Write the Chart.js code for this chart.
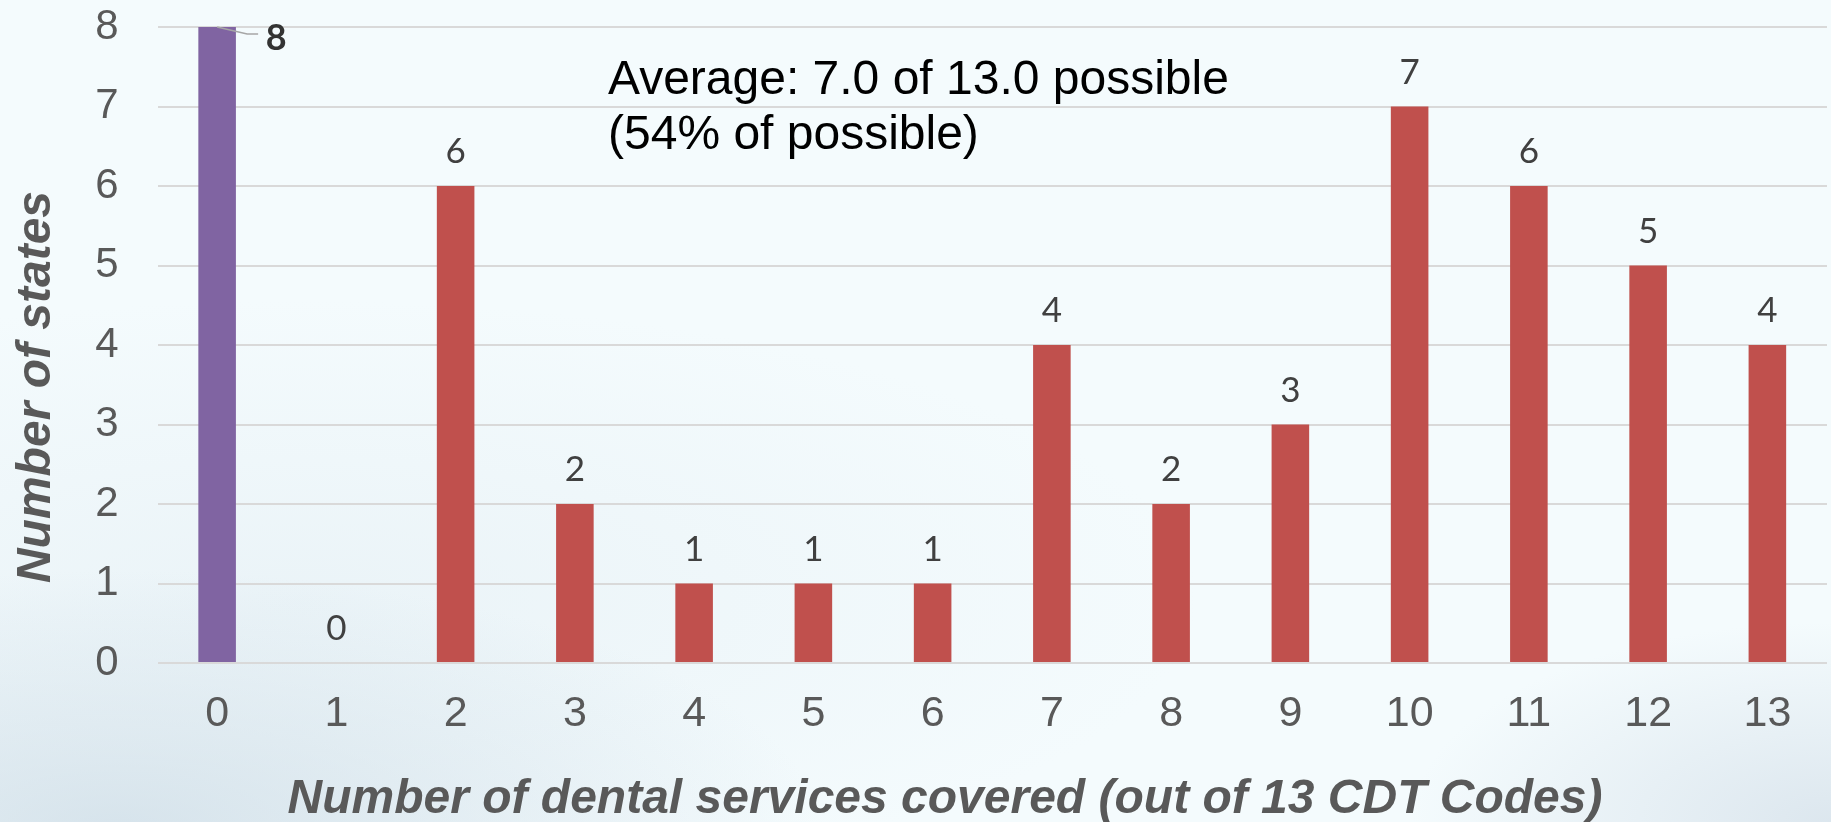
<!DOCTYPE html>
<html>
<head>
<meta charset="utf-8">
<script src="https://cdn.jsdelivr.net/npm/chart.js@4.4.1/dist/chart.umd.min.js"></script>
<style>
  html, body { margin: 0; padding: 0; }
  body {
    width: 1831px; height: 822px; overflow: hidden;
    background:
      radial-gradient(ellipse 700px 260px at 120px 830px, rgba(205,220,230,0.75), rgba(205,220,230,0) 100%),
      radial-gradient(ellipse 420px 200px at 1831px 822px, rgba(210,222,232,0.7), rgba(210,222,232,0) 100%),
      radial-gradient(ellipse 900px 300px at 300px 600px, rgba(225,236,242,0.5), rgba(225,236,242,0) 100%),
      #F4FBFD;
  }
  #wrap { position: absolute; left: 0; top: 0; width: 1831px; height: 822px; }
</style>
</head>
<body>
<div id="wrap"><canvas id="c" width="1831" height="822"></canvas></div>
<script>
// Number of dental services covered (0..13) and how many states cover that many
const categories = ['0', '1', '2', '3', '4', '5', '6', '7', '8', '9', '10', '11', '12', '13'];
const stateCounts = [8, 0, 6, 2, 1, 1, 1, 4, 2, 3, 7, 6, 5, 4];
const yTicks = [0, 1, 2, 3, 4, 5, 6, 7, 8];
const noteLines = ['Average: 7.0 of 13.0 possible', '(54% of possible)'];
const xTitle = 'Number of dental services covered (out of 13 CDT Codes)';
const yTitle = 'Number of states';

const PURPLE = '#8064A2';
const RED = '#C0504D';
const barColors = stateCounts.map((v, i) => i === 0 ? PURPLE : RED);

// Value labels above the bars, the note text and the axis titles
const overlay = {
  id: 'overlay',
  afterDatasetsDraw(chart) {
    const ctx = chart.ctx;
    const meta = chart.getDatasetMeta(0);
    const y = chart.scales.y;
    ctx.save();
    meta.data.forEach((bar, i) => {
      const v = stateCounts[i];
      const top = y.getPixelForValue(v);
      if (i === 0) {
        // the tallest bar's label sits to the right with a leader line
        ctx.strokeStyle = '#A6A6A6';
        ctx.lineWidth = 1.5;
        ctx.beginPath();
        ctx.moveTo(bar.x, top);
        ctx.lineTo(bar.x + 30, top + 7);
        ctx.lineTo(bar.x + 41, top + 7);
        ctx.stroke();
        ctx.fillStyle = '#333333';
        ctx.font = 'bold 36px Lato, "Open Sans", sans-serif';
        ctx.textAlign = 'center';
        ctx.textBaseline = 'alphabetic';
        ctx.fillText(String(v), bar.x + 59, top + 23);
      } else {
        ctx.fillStyle = '#404040';
        ctx.font = '35px Lato, "Open Sans", sans-serif';
        ctx.textAlign = 'center';
        ctx.textBaseline = 'alphabetic';
        ctx.fillText(String(v), bar.x, top - 23);
      }
    });

    // note text
    ctx.fillStyle = '#000000';
    ctx.font = '48px "Liberation Sans", Arial, sans-serif';
    ctx.textAlign = 'left';
    ctx.textBaseline = 'alphabetic';
    ctx.fillText(noteLines[0], 608, 94);
    ctx.fillText(noteLines[1], 608, 149);

    // axis titles
    ctx.fillStyle = '#595959';
    ctx.font = 'italic bold 48px "Liberation Sans", Arial, sans-serif';
    ctx.textAlign = 'center';
    ctx.fillText(xTitle, 945, 813);
    ctx.translate(50, 387);
    ctx.rotate(-Math.PI / 2);
    ctx.fillText(yTitle, 0, 0);
    ctx.restore();
  }
};

new Chart(document.getElementById('c'), {
  type: 'bar',
  data: {
    labels: categories,
    datasets: [{
      data: stateCounts,
      backgroundColor: barColors,
      borderWidth: 0,
      categoryPercentage: 1,
      barPercentage: 0.315
    }]
  },
  options: {
    responsive: false,
    animation: false,
    events: [],
    layout: { padding: { left: 0, top: 27, right: 4, bottom: 0 } },
    plugins: { legend: { display: false }, tooltip: { enabled: false } },
    scales: {
      x: {
        offset: true,
        grid: { display: false, drawTicks: false },
        border: { display: false },
        ticks: {
          color: '#595959',
          font: { family: '"Liberation Sans", Arial, sans-serif', size: 43 },
          padding: 25,
          maxRotation: 0,
          autoSkip: false
        },
        afterFit(scale) {
          scale.height = 159;
          scale.paddingLeft = 0;
          scale.paddingRight = 0;
        }
      },
      y: {
        min: 0,
        max: 8,
        afterBuildTicks(scale) { scale.ticks = yTicks.map(v => ({ value: v })); },
        grid: { color: '#D9D9D9', lineWidth: 2, drawTicks: false },
        border: { display: false },
        ticks: {
          color: '#595959',
          font: { family: '"Liberation Sans", Arial, sans-serif', size: 42 },
          padding: 39
        },
        afterFit(scale) {
          scale.width = 157.5;
          scale.paddingTop = 0;
          scale.paddingBottom = 0;
        }
      }
    }
  },
  plugins: [overlay]
});
</script>
</body>
</html>
